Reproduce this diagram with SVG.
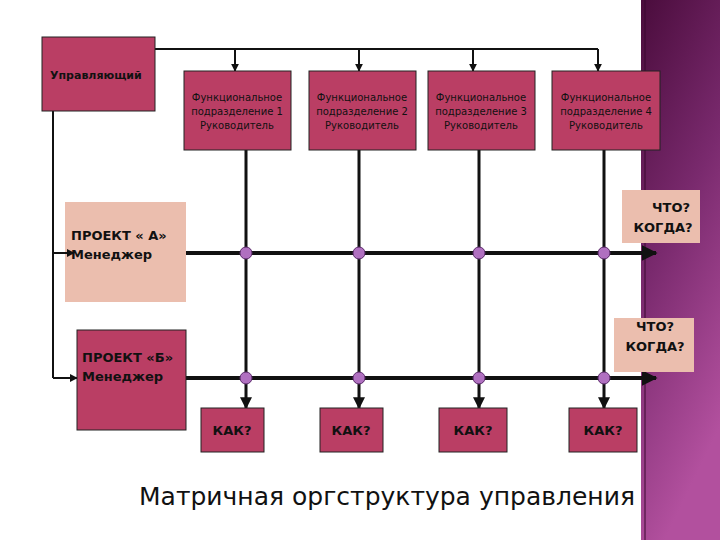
<svg xmlns="http://www.w3.org/2000/svg" width="720" height="540" viewBox="0 0 720 540">
<defs>
<linearGradient id="band" x1="0" y1="0" x2="0.3" y2="1"><stop offset="0" stop-color="#4a0c3c"/><stop offset="0.5" stop-color="#7a2a6e"/><stop offset="1" stop-color="#b2509e"/></linearGradient>
<marker id="ar" viewBox="0 0 10 10" refX="9" refY="5" markerWidth="4" markerHeight="4" orient="auto"><path d="M0,0L10,5L0,10z" fill="#111"/></marker>
</defs>
<style>
.c{fill:#ba3e64;stroke:#222;stroke-width:1}
.p{fill:#ebbeae;stroke:none}
.t{font-family:"DejaVu Sans",sans-serif;fill:#111}
.s{font-size:10px;text-anchor:middle}
.b{font-size:13px;font-weight:600}
.l{stroke:#111;fill:none}
.d{fill:#b070c0;stroke:#5a2a6a;stroke-width:1}
</style>
<rect width="720" height="540" fill="#fff"/>
<rect x="641" y="0" width="79" height="540" fill="url(#band)"/>
<line x1="645" y1="0" x2="645" y2="540" stroke="#3a0830" stroke-width="1"/>
<g id="pa"><rect class="p" x="65" y="202" width="121" height="100" stroke="#333" stroke-width="0.5"/><text class="t b" x="71" y="240">ПРОЕКТ « А»</text><text class="t b" x="71" y="259">Менеджер</text></g>
<g id="connectors">
<path class="l" stroke-width="2" d="M155,49H598"/>
<path class="l" stroke-width="2" marker-end="url(#ar)" d="M235,49V71"/>
<path class="l" stroke-width="2" marker-end="url(#ar)" d="M359,49V71"/>
<path class="l" stroke-width="2" marker-end="url(#ar)" d="M473,49V71"/>
<path class="l" stroke-width="2" marker-end="url(#ar)" d="M598,49V71"/>
<path class="l" stroke-width="2" d="M53,111V378"/>
<path class="l" stroke-width="2" marker-end="url(#ar)" d="M53,253H74"/>
<path class="l" stroke-width="2" marker-end="url(#ar)" d="M53,378H77"/>
<path class="l" stroke-width="3" marker-end="url(#ar)" d="M246,150V408"/>
<path class="l" stroke-width="3" marker-end="url(#ar)" d="M359,150V408"/>
<path class="l" stroke-width="3" marker-end="url(#ar)" d="M479,150V408"/>
<path class="l" stroke-width="3" marker-end="url(#ar)" d="M604,150V408"/>
<path class="l" stroke-width="4" marker-end="url(#ar)" d="M186,253H656"/>
<path class="l" stroke-width="4" marker-end="url(#ar)" d="M186,378H656"/>
<circle class="d" cx="246" cy="253" r="6"/><circle class="d" cx="359" cy="253" r="6"/><circle class="d" cx="479" cy="253" r="6"/><circle class="d" cx="604" cy="253" r="6"/>
<circle class="d" cx="246" cy="378" r="6"/><circle class="d" cx="359" cy="378" r="6"/><circle class="d" cx="479" cy="378" r="6"/><circle class="d" cx="604" cy="378" r="6"/>
</g>
<g id="mgr"><rect class="c" x="42" y="37" width="113" height="74"/><text class="t" x="50" y="79" font-size="11" font-weight="bold">Управляющий</text></g>
<g id="f1"><rect class="c" x="184" y="71" width="107" height="79"/><text class="t s" x="237" y="101">Функциональное</text><text class="t s" x="237" y="115">подразделение 1</text><text class="t s" x="237" y="129">Руководитель</text></g>
<g id="f2"><rect class="c" x="309" y="71" width="107" height="79"/><text class="t s" x="362" y="101">Функциональное</text><text class="t s" x="362" y="115">подразделение 2</text><text class="t s" x="362" y="129">Руководитель</text></g>
<g id="f3"><rect class="c" x="428" y="71" width="107" height="79"/><text class="t s" x="481" y="101">Функциональное</text><text class="t s" x="481" y="115">подразделение 3</text><text class="t s" x="481" y="129">Руководитель</text></g>
<g id="f4"><rect class="c" x="552" y="71" width="108" height="79"/><text class="t s" x="606" y="101">Функциональное</text><text class="t s" x="606" y="115">подразделение 4</text><text class="t s" x="606" y="129">Руководитель</text></g>
<g id="pb"><rect class="c" x="77" y="330" width="109" height="100"/><text class="t b" x="82" y="362">ПРОЕКТ «Б»</text><text class="t b" x="82" y="381">Менеджер</text></g>
<g id="q1"><rect class="p" x="622" y="190" width="78" height="53"/><text class="t b" x="671" y="212" text-anchor="middle">ЧТО?</text><text class="t b" x="663" y="232" text-anchor="middle">КОГДА?</text></g>
<g id="q2"><rect class="p" x="614" y="318" width="80" height="54"/><text class="t b" x="655" y="331" text-anchor="middle">ЧТО?</text><text class="t b" x="655" y="351" text-anchor="middle">КОГДА?</text></g>
<g id="k1"><rect class="c" x="201" y="408" width="63" height="44" stroke="none"/><text class="t b" x="232" y="435" text-anchor="middle">КАК?</text></g>
<g id="k2"><rect class="c" x="320" y="408" width="63" height="44" stroke="none"/><text class="t b" x="351" y="435" text-anchor="middle">КАК?</text></g>
<g id="k3"><rect class="c" x="439" y="408" width="68" height="44" stroke="none"/><text class="t b" x="473" y="435" text-anchor="middle">КАК?</text></g>
<g id="k4"><rect class="c" x="569" y="408" width="68" height="44" stroke="none"/><text class="t b" x="603" y="435" text-anchor="middle">КАК?</text></g>
<text class="t" x="387" y="505" font-size="25" text-anchor="middle">Матричная оргструктура управления</text>
</svg>
